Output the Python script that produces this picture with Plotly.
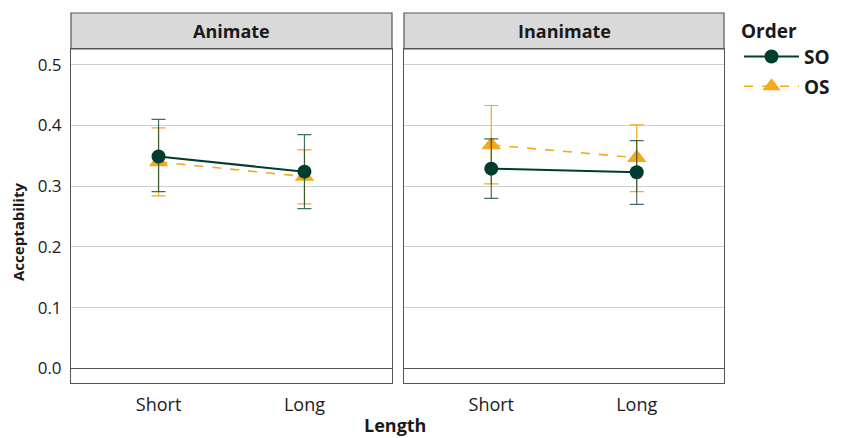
import plotly.graph_objects as go

lengths = ["Short", "Long"]
panels = ["Animate", "Inanimate"]
orders = ["SO", "OS"]

# mean acceptability per panel / order, [Short, Long]
so_mean = {"Animate": [0.349, 0.324], "Inanimate": [0.329, 0.323]}
so_upper = {"Animate": [0.410, 0.385], "Inanimate": [0.378, 0.375]}
so_lower = {"Animate": [0.291, 0.263], "Inanimate": [0.280, 0.270]}

os_mean = {"Animate": [0.340, 0.316], "Inanimate": [0.368, 0.347]}
os_upper = {"Animate": [0.396, 0.360], "Inanimate": [0.433, 0.401]}
os_lower = {"Animate": [0.284, 0.271], "Inanimate": [0.304, 0.291]}

y_ticks = [0.0, 0.1, 0.2, 0.3, 0.4, 0.5]

GREEN = "#003d2e"
ORANGE = "#f5a81c"
FONT = "Open Sans"
TXT = "#1a1a1a"

# page body has an 8px margin, so the figure is drawn 8px in from the window corner
OFF = 8
W, H = 840, 430
def px(x):
    return (x - OFF) / W
def py(y):
    return 1 - (y - OFF) / H

fig = go.Figure()

styles = {
    "SO": dict(color=GREEN, dash="solid", width=2, symbol="circle", size=14,
               mean=so_mean, up=so_upper, lo=so_lower, ecolor="rgba(0,61,46,0.75)"),
    "OS": dict(color=ORANGE, dash="dash", width=1.6, symbol="triangle-up", size=17,
               mean=os_mean, up=os_upper, lo=os_lower, ecolor=ORANGE),
}

for o in ["OS", "SO"]:
    s = styles[o]
    for i, p in enumerate(panels):
        m = s["mean"][p]
        up = [u - v for u, v in zip(s["up"][p], m)]
        lo = [v - l for l, v in zip(s["lo"][p], m)]
        fig.add_trace(go.Scatter(
            x=lengths, y=m, mode="lines+markers", name=f"<b>{o}</b>",
            legendgroup=o, showlegend=(i == 0),
            xaxis="x" if i == 0 else "x2", yaxis="y" if i == 0 else "y2",
            line=dict(color=s["color"], dash=s["dash"], width=s["width"]),
            marker=dict(symbol=s["symbol"], size=s["size"], color=s["color"]),
            error_y=dict(type="data", symmetric=False, array=up, arrayminus=lo,
                         color=s["ecolor"], thickness=1.2, width=7),
            legendrank=1 if o == "SO" else 2,
        ))

xdoms = [[px(71), px(392)], [px(404), px(724)]]
ydom = [py(383), py(49)]

axis_common_x = dict(
    type="category", categoryorder="array", categoryarray=lengths,
    range=[-0.6, 1.6], showgrid=False, zeroline=False, automargin=False,
    showline=True, mirror=True, linecolor="#555555", linewidth=1,
    ticks="", tickfont=dict(family=FONT, size=18, color=TXT),
    ticklabelstandoff=5,
)
axis_common_y = dict(
    range=[-0.024, 0.526], tickvals=y_ticks, ticktext=[f"{v:.1f}" for v in y_ticks],
    showgrid=True, gridcolor="#cfcfcf", gridwidth=1, automargin=False,
    zeroline=True, zerolinecolor="#555555", zerolinewidth=1,
    showline=True, mirror=True, linecolor="#555555", linewidth=1,
    ticks="", tickfont=dict(family=FONT, size=17, color=TXT),
    domain=ydom,
)

fig.update_layout(
    width=W, height=H,
    margin=dict(l=0, r=0, t=0, b=0, autoexpand=False),
    paper_bgcolor="white", plot_bgcolor="white",
    font=dict(family=FONT, color=TXT),
    xaxis=dict(axis_common_x, domain=xdoms[0], anchor="y"),
    xaxis2=dict(axis_common_x, domain=xdoms[1], anchor="y2"),
    yaxis=dict(axis_common_y, anchor="x", ticklabelstandoff=5),
    yaxis2=dict(axis_common_y, anchor="x2", showticklabels=False),
    legend=dict(
        x=px(739), y=py(13), xanchor="left", yanchor="top",
        title=dict(text="<b>Order</b>", font=dict(family=FONT, size=19, color=TXT)),
        font=dict(family=FONT, size=19, color=TXT),
        bgcolor="rgba(0,0,0,0)", itemwidth=55, tracegroupgap=2,
    ),
    showlegend=True,
)

# facet strips
strip_top = py(13)
for i, p in enumerate(panels):
    fig.add_shape(type="rect", xref="paper", yref="paper",
                  x0=xdoms[i][0], x1=xdoms[i][1], y0=ydom[1], y1=strip_top,
                  fillcolor="#d9d9d9", line=dict(color="#555555", width=1.2),
                  layer="below")
    fig.add_annotation(x=(xdoms[i][0] + xdoms[i][1]) / 2, y=(ydom[1] + strip_top) / 2,
                       xref="paper", yref="paper", text=f"<b>{p}</b>", showarrow=False,
                       xanchor="center", yanchor="middle",
                       font=dict(family=FONT, size=18, color=TXT))

# axis titles
fig.add_annotation(x=px(395), y=py(425), xref="paper", yref="paper",
                   text="<b>Length</b>", showarrow=False, xanchor="center", yanchor="middle",
                   font=dict(family=FONT, size=18, color=TXT))
fig.add_annotation(x=px(18), y=py(232), xref="paper", yref="paper",
                   text="<b>Acceptability</b>", showarrow=False, textangle=-90,
                   xanchor="center", yanchor="middle",
                   font=dict(family=FONT, size=15, color=TXT))

fig.write_html("out.html")
